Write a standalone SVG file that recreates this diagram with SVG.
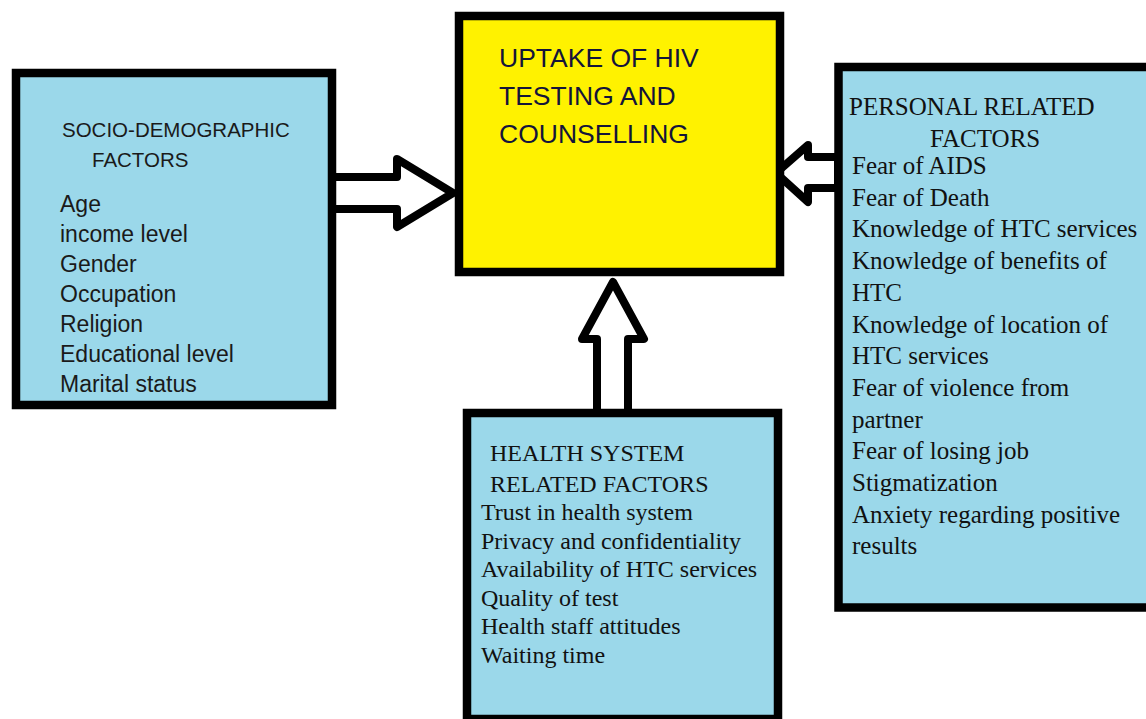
<svg xmlns="http://www.w3.org/2000/svg" width="1146" height="719" viewBox="0 0 1146 719">
<style>
.box{fill:#9BD8EA;stroke:#000;stroke-width:8.5}
.main{fill:#FFF200;stroke:#000;stroke-width:8.5}
.arrow{fill:#fff;stroke:#000;stroke-width:8;stroke-linejoin:round}
.sans{font-family:"Liberation Sans",Arial,sans-serif;fill:#1a1a1a}
.serif{font-family:"Liberation Serif","Times New Roman",serif;fill:#111}
.title{font-family:"Liberation Sans",Arial,sans-serif;font-size:26.5px;fill:#14143a}
</style>
<rect width="1146" height="719" fill="#fff"/>
<g id="connectors">
<path class="arrow" d="M332,177 L397,177 L397,159 L453,193 L397,227 L397,209 L332,209 Z"/>
<path class="arrow" d="M597,413 L597,339 L582,339 L613,282 L644,339 L628,339 L628,413 Z"/>
<path class="arrow" d="M838,157 L808,157 L808,145 L776,173 L808,202 L808,188 L838,188 Z"/>
</g>
<g id="socio-demographic">
<rect class="box" x="16" y="73" width="316" height="332"/>
<text class="sans" font-size="20.5"><tspan x="62" y="137">SOCIO-DEMOGRAPHIC</tspan><tspan x="92" y="167">FACTORS</tspan></text>
<text class="sans" font-size="23">
<tspan x="60" y="212">Age</tspan>
<tspan x="60" y="242">income level</tspan>
<tspan x="60" y="272">Gender</tspan>
<tspan x="60" y="302">Occupation</tspan>
<tspan x="60" y="332">Religion</tspan>
<tspan x="60" y="362">Educational level</tspan>
<tspan x="60" y="392">Marital status</tspan>
</text>
</g>
<g id="uptake">
<rect class="main" x="459" y="16" width="321" height="256"/>
<text class="title"><tspan x="499" y="67">UPTAKE OF HIV</tspan><tspan x="499" y="105">TESTING AND</tspan><tspan x="499" y="143">COUNSELLING</tspan></text>
</g>
<g id="personal">
<rect class="box" x="838.5" y="67" width="320" height="540.5"/>
<text class="serif" font-size="25">
<tspan x="849" y="115">PERSONAL RELATED</tspan>
<tspan x="930" y="147">FACTORS</tspan>
<tspan x="852" y="174">Fear of AIDS</tspan>
<tspan x="852" y="205.7">Fear of Death</tspan>
<tspan x="852" y="237.4">Knowledge of HTC services</tspan>
<tspan x="852" y="269.1">Knowledge of benefits of</tspan>
<tspan x="852" y="300.8">HTC</tspan>
<tspan x="852" y="332.5">Knowledge of location of</tspan>
<tspan x="852" y="364.2">HTC services</tspan>
<tspan x="852" y="395.9">Fear of violence from</tspan>
<tspan x="852" y="427.6">partner</tspan>
<tspan x="852" y="459.3">Fear of losing job</tspan>
<tspan x="852" y="491">Stigmatization</tspan>
<tspan x="852" y="522.7">Anxiety regarding positive</tspan>
<tspan x="852" y="554.4">results</tspan>
</text>
</g>
<g id="health-system">
<rect class="box" x="467" y="413" width="311" height="306"/>
<text class="serif" font-size="24">
<tspan x="490" y="461">HEALTH SYSTEM</tspan>
<tspan x="490" y="492">RELATED FACTORS</tspan>
<tspan x="481" y="520">Trust in health system</tspan>
<tspan x="481" y="548.5">Privacy and confidentiality</tspan>
<tspan x="481" y="577">Availability of HTC services</tspan>
<tspan x="481" y="605.5">Quality of test</tspan>
<tspan x="481" y="634">Health staff attitudes</tspan>
<tspan x="481" y="662.5">Waiting time</tspan>
</text>
</g>
</svg>
